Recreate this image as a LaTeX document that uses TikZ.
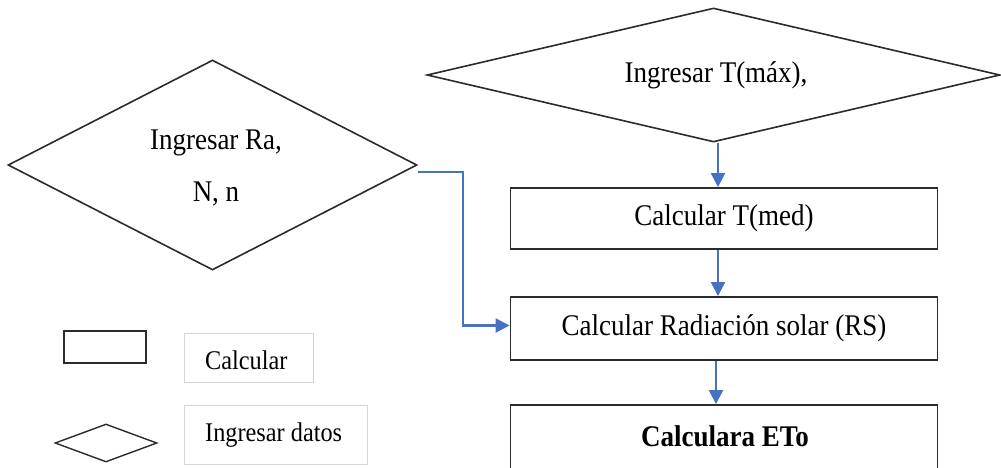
\documentclass[tikz,border=0pt]{standalone}
\usepackage{fontspec}
\setmainfont{Liberation Serif}[FakeStretch=0.9]
\usetikzlibrary{shapes.geometric,arrows.meta,calc}
\definecolor{flowblue}{HTML}{4472C4}
\definecolor{edgegray}{HTML}{2B2B2B}
\definecolor{legendgray}{HTML}{D4D4D4}
\begin{document}
\begin{tikzpicture}[x=1pt,y=-1pt,
  inputshape/.style={diamond,draw=edgegray,line width=1.6pt,inner sep=0pt,
    aspect=4,font=\fontsize{30}{36}\selectfont},
  procbox/.style={rectangle,draw=edgegray,line width=1.9pt,inner sep=0pt,
    minimum width=427pt,font=\fontsize{30}{36}\selectfont},
  legendbox/.style={rectangle,draw=legendgray,line width=1pt,inner sep=0pt},
  legendtext/.style={anchor=west,inner sep=0pt,font=\fontsize{27}{32}\selectfont},
  flow/.style={draw=flowblue,line width=2.3pt,-{Triangle[length=14pt,width=14pt]}}
]
\useasboundingbox (0,0) rectangle (1001,467);

% input diamonds
\node[inputshape,minimum width=573pt,minimum height=134pt] (tmax) at (713.5,75) {};
\node[inner sep=0pt,font=\fontsize{30}{36}\selectfont] (tmaxlbl) at (716,75) {Ingresar T(máx),};
\node[inputshape,minimum width=409pt,minimum height=210pt] (ra) at (212.5,165) {};
\node[inner sep=0pt,align=center,font=\fontsize{30}{52}\selectfont] (ralbl) at (216,168) {Ingresar Ra,\\N, n};

% process boxes
\node[procbox,minimum height=61pt] (tmed) at (724,218.5) {Calcular T(med)};
\node[procbox,minimum height=63pt] (rs) at (724,328.5) {Calcular Radiación solar (RS)};
\node[procbox,minimum height=70pt,text depth=0pt] (eto) at (724,440) {};
\node[inner sep=0pt,font=\fontsize{30}{36}\selectfont\bfseries] (etolbl) at (725,436) {Calculara ETo};

% connectors
\draw[flow] ([xshift=4.5pt]tmax.south) -- ([xshift=4.5pt]tmax.south |- tmed.north);
\draw[flow] ([xshift=-6pt]tmed.south) -- ([xshift=-6pt]rs.north);
\draw[flow] ([xshift=-8pt]rs.south) -- ([xshift=-8pt]eto.north);
\draw[flow] ([yshift=-7pt]ra.east) -- ++(45,0) |- ([yshift=3pt]rs.west);

% legend
\node[rectangle,draw=edgegray,line width=1.6pt,minimum width=82pt,minimum height=32pt,inner sep=0pt] (keybox) at (105,347) {};
\node[legendbox,minimum width=129pt,minimum height=49pt] (keycalc) at (248.5,357.5) {};
\node[legendtext] (keycalclbl) at (205,360) {Calcular};
\node[diamond,draw=edgegray,line width=1.4pt,inner sep=0pt,minimum width=102pt,minimum height=38pt] (keydia) at (106,443) {};
\node[legendbox,minimum width=183pt,minimum height=59pt] (keyin) at (275.5,434.5) {};
\node[legendtext] (keyinlbl) at (205,435) {Ingresar datos};
\end{tikzpicture}
\end{document}
